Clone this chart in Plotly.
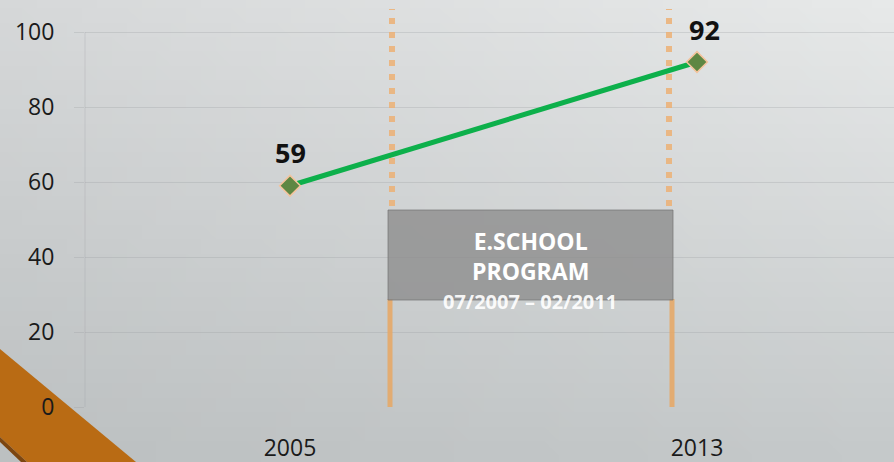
import zlib, struct, base64
import plotly.graph_objects as go

# ---------------- data ----------------
years = ["2005", "2013"]
values = [59, 92]
y_ticks = [0, 20, 40, 60, 80, 100]
program_lines = ["E.SCHOOL", "PROGRAM", "07/2007 – 02/2011"]

# ---------------- geometry helpers ----------------
W, H = 894, 462
ML, MR, MT, MB = 85, 0, 5, 55
PW, PH = W - ML - MR, H - MT - MB
X0PX, X1PX = 290, 697            # pixel centres of the two categories
UNIT = X1PX - X0PX
xr = [(ML - X0PX) / UNIT, (W - MR - X0PX) / UNIT]
PPU = 3.75                        # pixels per y unit
yr = [0, PH / PPU]

def dx(px):
    return (px - X0PX) / UNIT

def dy(py):
    return (H - MB - py) / PPU

def px_paper(px):
    return (px - ML) / PW

def py_paper(py):
    return (H - MB - py) / PH

# ---------------- gradient background (PNG data URI) ----------------
def gradient_png(w, h, tl, tr, bl, br):
    rows = []
    for j in range(h):
        v = j / (h - 1)
        row = bytearray([0])
        for i in range(w):
            u = i / (w - 1)
            for c in range(3):
                top = tl[c] * (1 - u) + tr[c] * u
                bot = bl[c] * (1 - u) + br[c] * u
                row.append(int(round(top * (1 - v) + bot * v)))
        rows.append(bytes(row))
    raw = b"".join(rows)

    def chunk(t, d):
        return struct.pack(">I", len(d)) + t + d + struct.pack(">I", zlib.crc32(t + d) & 0xffffffff)

    data = (b"\x89PNG\r\n\x1a\n"
            + chunk(b"IHDR", struct.pack(">IIBBBBB", w, h, 8, 2, 0, 0, 0))
            + chunk(b"IDAT", zlib.compress(raw))
            + chunk(b"IEND", b""))
    return "data:image/png;base64," + base64.b64encode(data).decode()

bg_src = gradient_png(60, 32, (214, 216, 217), (231, 233, 233), (188, 192, 193), (197, 201, 202))

fig = go.Figure()

fig.add_trace(go.Scatter(
    x=years, y=values, mode="lines+markers",
    line=dict(color="#0DB04B", width=5),
    marker=dict(symbol="diamond", size=16, color="#5E8743",
                line=dict(color="#F5C39C", width=1.5)),
    hoverinfo="x+y", showlegend=False,
))

GRID = "rgba(150,155,158,0.28)"
ORANGE_DOT = "rgba(236,176,116,0.85)"
ORANGE = "rgba(229,168,104,0.9)"

shapes = []
# brown diagonal decoration bottom-left
def path(pts):
    return "M " + " L ".join(f"{px_paper(a):.5f},{py_paper(b):.5f}" for a, b in pts) + " Z"

shapes.append(dict(type="path", xref="paper", yref="paper", layer="below",
                   path=path([(0, 349), (136, 462), (27, 462), (0, 437)]),
                   fillcolor="#B96B14", line=dict(width=0)))
shapes.append(dict(type="path", xref="paper", yref="paper", layer="below",
                   path=path([(0, 437), (27, 462), (21, 462), (0, 442)]),
                   fillcolor="#7D4610", line=dict(width=0)))
# y axis line (only up to 100)
shapes.append(dict(type="line", xref="paper", yref="y", layer="below",
                   x0=0, x1=0, y0=0, y1=100, line=dict(color=GRID, width=1)))
# dotted vertical lines
for xp in (392, 669):
    shapes.append(dict(type="line", xref="x", yref="y", layer="above",
                       x0=dx(xp), x1=dx(xp), y0=dy(206), y1=dy(9),
                       line=dict(color=ORANGE_DOT, width=6, dash="6px,8px")))
# solid lower vertical lines
for xp in (390, 672):
    shapes.append(dict(type="line", xref="x", yref="y", layer="above",
                       x0=dx(xp), x1=dx(xp), y0=0, y1=dy(299),
                       line=dict(color=ORANGE, width=5)))
# program box
shapes.append(dict(type="rect", xref="x", yref="y", layer="above",
                   x0=dx(388), x1=dx(673), y0=dy(300), y1=dy(210),
                   fillcolor="rgba(140,140,140,0.78)",
                   line=dict(color="rgba(115,115,115,0.7)", width=1)))

annotations = []
# value labels (category index positions)
for i, v in enumerate(values):
    annotations.append(dict(x=i, y=v, xref="x", yref="y", text=f"<b>{v}</b>",
                            showarrow=False, yshift=33, xshift=(0 if i == 0 else 7),
                            font=dict(family="Open Sans", size=27, color="#111111")))
# program box text
annotations.append(dict(x=dx(530), y=dy(256), xref="x", yref="y",
                        text=f"<b>{program_lines[0]}</b><br><b>{program_lines[1]}</b>",
                        showarrow=False, align="center",
                        font=dict(family="Open Sans", size=23, color="white")))
annotations.append(dict(x=dx(530), y=dy(301), xref="x", yref="y",
                        text=f"<b>{program_lines[2]}</b>",
                        showarrow=False, align="center",
                        font=dict(family="Open Sans", size=20, color="rgba(255,255,255,0.92)")))

fig.update_layout(
    width=W, height=H,
    margin=dict(l=ML, r=MR, t=MT, b=MB, pad=0),
    paper_bgcolor="rgba(0,0,0,0)", plot_bgcolor="rgba(0,0,0,0)",
    images=[dict(source=bg_src, xref="paper", yref="paper",
                 x=-ML / PW, y=1 + MT / PH, sizex=W / PW, sizey=H / PH,
                 xanchor="left", yanchor="top", sizing="stretch", layer="below")],
    xaxis=dict(type="category", categoryorder="array", categoryarray=years,
               range=xr, showgrid=False, zeroline=False, showline=False,
               ticks="", ticklabelstandoff=25,
               tickfont=dict(family="Open Sans", size=23, color="#1a1a1a")),
    yaxis=dict(range=yr, tickvals=y_ticks, showgrid=True, gridcolor=GRID,
               zeroline=False, showline=False, ticks="outside", ticklen=10,
               tickcolor=GRID, ticklabelstandoff=15,
               tickfont=dict(family="Open Sans", size=23, color="#1a1a1a")),
    shapes=shapes, annotations=annotations,
    font=dict(family="Open Sans"),
)

fig.write_html("out.html", config={"displayModeBar": False},
               post_script="document.body.style.margin='0px';document.body.style.overflow='hidden';")
